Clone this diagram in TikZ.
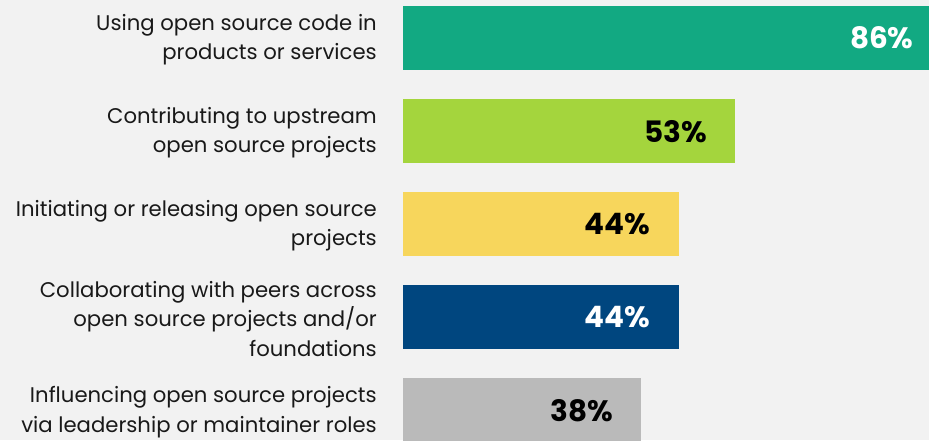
\documentclass[tikz,border=0pt]{standalone}
\usepackage{fontspec}
\setmainfont{Poppins}
\usepackage{tikz}

\definecolor{bargreen}{HTML}{12A982}
\definecolor{barlime}{HTML}{A4D53D}
\definecolor{baryellow}{HTML}{F7D65C}
\definecolor{barblue}{HTML}{00467F}
\definecolor{bargray}{HTML}{BABABA}
\definecolor{backgray}{HTML}{F2F2F2}

\begin{document}
\begin{tikzpicture}
                        [
                            x=1pt, y=-1pt,
                            bar/.style = {shape=rectangle, anchor=north west, inner sep=0pt, minimum height=64pt},
                            label/.style = {anchor=east, align=right, inner sep=0pt, font=\fontsize{21.2}{29.3}\selectfont, text=black!90},
                            value/.style = {anchor=east, inner sep=0pt, font=\fontsize{29.5}{32}\selectfont\bfseries},
                        ]

                        \fill[backgray] (0,0) rectangle (929,440);
                        \clip (0,0) rectangle (929,440);

                        \node[bar, fill=bargreen, minimum width=538.4pt]  (0b) at (403,6)   {};
                        \node[bar, fill=barlime, minimum width=331.8pt]   (1b) at (403,99)  {};
                        \node[bar, fill=baryellow, minimum width=275.4pt] (2b) at (403,192) {};
                        \node[bar, fill=barblue, minimum width=275.4pt]   (3b) at (403,285) {};
                        \node[bar, fill=bargray, minimum width=237.9pt]   (4b) at (403,378) {};

                        \node[label] (0l) at (377,40)  {Using open source code in\\products or services};
                        \node[label] (1l) at (377,133) {Contributing to upstream\\open source projects};
                        \node[label] (2l) at (377,226) {Initiating or releasing open source\\projects};
                        \node[label] (3l) at (377,319) {Collaborating with peers across\\open source projects and/or\\foundations};
                        \node[label] (4l) at (377,412) {Influencing open source projects\\via leadership or maintainer roles};

                        \node[value, text=white] (0v) at ([xshift=-28pt]0b.east) {86\%};
                        \node[value, text=black] (1v) at ([xshift=-28pt]1b.east) {53\%};
                        \node[value, text=black] (2v) at ([xshift=-28pt]2b.east) {44\%};
                        \node[value, text=white] (3v) at ([xshift=-28pt]3b.east) {44\%};
                        \node[value, text=black] (4v) at ([xshift=-28pt]4b.east) {38\%};
                    \end{tikzpicture}
\end{document}
